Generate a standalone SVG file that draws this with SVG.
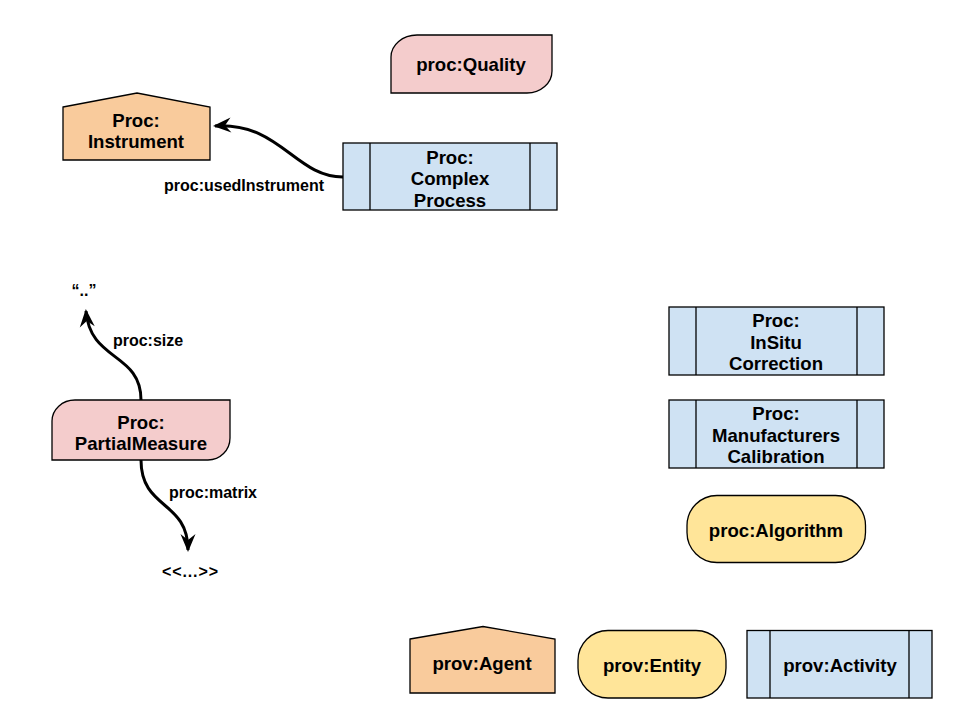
<svg xmlns="http://www.w3.org/2000/svg" width="960" height="720" viewBox="0 0 960 720">
<style>
  .node { stroke: #000; stroke-width: 1.3; }
  .pink { fill: #f4cccc; }
  .orange { fill: #f9cb9c; }
  .blue { fill: #cfe2f3; }
  .yellow { fill: #ffe599; }
  .lbl { font-family: "Liberation Sans", Arial, sans-serif; font-weight: bold; font-size: 18.6px; fill: #000; text-anchor: middle; }
  .elbl { font-family: "Liberation Sans", Arial, sans-serif; font-weight: bold; font-size: 16px; fill: #000; text-anchor: middle; }
  .edge { fill: none; stroke: #000; stroke-width: 3; }
  .inner { stroke: #000; stroke-width: 1.3; }
</style>
<defs>
  <marker id="arrow" markerUnits="userSpaceOnUse" markerWidth="24" markerHeight="24" viewBox="-20 -10 24 20" refX="0" refY="0" orient="auto">
    <path d="M2,0 L-16,-7.5 L-10,0 L-16,7.5 Z" fill="#000"/>
  </marker>
</defs>
<rect width="960" height="720" fill="#fff"/>

<g id="connectors">
  <g id="edge-usedInstrument">
    <path class="edge" d="M343,177 C295,177 280,122 215,126" marker-end="url(#arrow)"/>
    <text class="elbl" x="244" y="191">proc:usedInstrument</text>
  </g>
  <g id="edge-size">
    <path class="edge" d="M141,400 C141,352 90,362 86,311" marker-end="url(#arrow)"/>
    <text class="elbl" x="148" y="346">proc:size</text>
  </g>
  <g id="edge-matrix">
    <path class="edge" d="M141,460 C141,510 188,500 188,550" marker-end="url(#arrow)"/>
    <text class="elbl" x="213" y="498">proc:matrix</text>
  </g>
</g>

<g id="n-quality">
  <path class="node pink" d="M417,35 H552 V71 A25,22 0 0 1 527,93 H391 V57 A26,22 0 0 1 417,35 Z"/>
  <text class="lbl" x="471" y="71">proc:Quality</text>
</g>

<g id="n-instrument">
  <path class="node orange" d="M63,107 L137,93 L210,107 V160 H63 Z"/>
  <text class="lbl" x="136" y="126.5">Proc:</text>
  <text class="lbl" x="136" y="148">Instrument</text>
</g>

<g id="n-complexprocess">
  <rect class="node blue" x="343" y="143" width="214" height="67"/>
  <line class="inner" x1="370" y1="143" x2="370" y2="210"/>
  <line class="inner" x1="530" y1="143" x2="530" y2="210"/>
  <text class="lbl" x="450" y="163.5">Proc:</text>
  <text class="lbl" x="450" y="185">Complex</text>
  <text class="lbl" x="450" y="206.5">Process</text>
</g>

<g id="n-literal">
  <text class="elbl" x="84" y="296">“..”</text>
</g>

<g id="n-partialmeasure">
  <path class="node pink" d="M75,400 H230 V438 A22,22 0 0 1 208,460 H52 V421 A23,21 0 0 1 75,400 Z"/>
  <text class="lbl" x="141" y="428.5">Proc:</text>
  <text class="lbl" x="141" y="449.5">PartialMeasure</text>
</g>

<g id="n-matrixtarget">
  <text class="elbl" x="190" y="577" textLength="56" lengthAdjust="spacing">&lt;&lt;...&gt;&gt;</text>
</g>

<g id="n-insitu">
  <rect class="node blue" x="669" y="307" width="215" height="68"/>
  <line class="inner" x1="696" y1="307" x2="696" y2="375"/>
  <line class="inner" x1="857" y1="307" x2="857" y2="375"/>
  <text class="lbl" x="776" y="327">Proc:</text>
  <text class="lbl" x="776" y="348.7">InSitu</text>
  <text class="lbl" x="776" y="370.4">Correction</text>
</g>

<g id="n-manufacturers">
  <rect class="node blue" x="669" y="400" width="215" height="68"/>
  <line class="inner" x1="696" y1="400" x2="696" y2="468"/>
  <line class="inner" x1="857" y1="400" x2="857" y2="468"/>
  <text class="lbl" x="776" y="420">Proc:</text>
  <text class="lbl" x="776" y="441.7">Manufacturers</text>
  <text class="lbl" x="776" y="463.4">Calibration</text>
</g>

<g id="n-algorithm">
  <rect class="node yellow" x="687" y="495.5" width="178.5" height="67" rx="30" ry="30"/>
  <text class="lbl" x="776" y="536.5">proc:Algorithm</text>
</g>

<g id="n-agent">
  <path class="node orange" d="M410,639 L483,626.5 L555,639 V693 H410 Z"/>
  <text class="lbl" x="482" y="670">prov:Agent</text>
</g>

<g id="n-entity">
  <rect class="node yellow" x="578" y="630.5" width="148" height="67.5" rx="30" ry="30"/>
  <text class="lbl" x="652" y="672.3">prov:Entity</text>
</g>

<g id="n-activity">
  <rect class="node blue" x="747" y="630.5" width="185" height="67.5"/>
  <line class="inner" x1="770" y1="630.5" x2="770" y2="698"/>
  <line class="inner" x1="909" y1="630.5" x2="909" y2="698"/>
  <text class="lbl" x="840" y="672.3">prov:Activity</text>
</g>
</svg>
